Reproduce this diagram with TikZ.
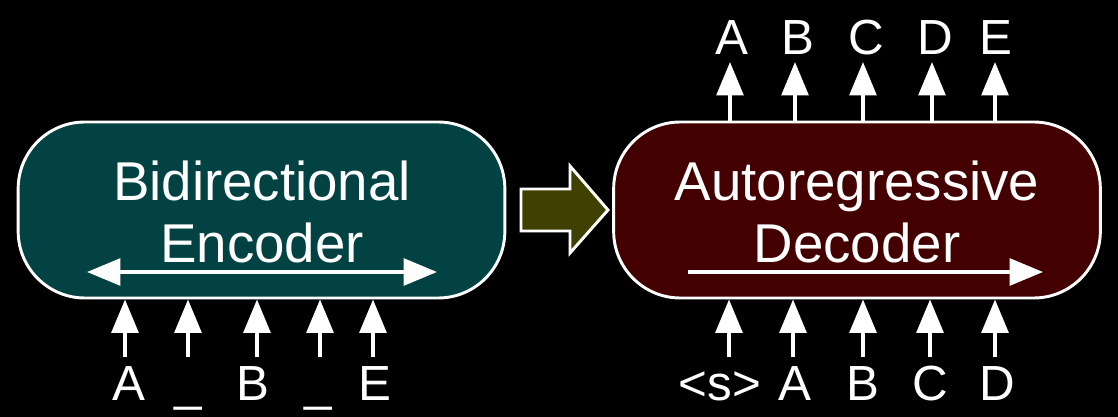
\documentclass[tikz,border=0pt]{standalone}
\usepackage{fontspec}
\setmainfont{Liberation Sans}
\usetikzlibrary{arrows.meta}
\definecolor{enccol}{HTML}{034242}
\definecolor{deccol}{HTML}{440000}
\definecolor{olivecol}{HTML}{404000}
\begin{document}
\begin{tikzpicture}[x=0.75pt,y=-0.75pt,
  box/.style={draw=white,line width=2.2pt,rounded corners=50pt,inner sep=0pt,
    minimum width=365pt,minimum height=132pt},
  boxtxt/.style={text=white,align=center,inner sep=0pt,font=\fontsize{41}{46}\selectfont},
  lbl/.style={text=white,anchor=base,inner sep=0pt,font=\fontsize{37}{40}\selectfont},
  tip/.style={Triangle[length=25pt,width=20pt]},
  arr/.style={white,line width=2.8pt,-{Triangle[length=25pt,width=20pt]}},
  darr/.style={white,line width=2.8pt,{Triangle[length=25pt,width=20pt]}-{Triangle[length=25pt,width=20pt]}}]
\fill[black] (0,0) rectangle (1118,417);
\useasboundingbox (0,0) rectangle (1118,417);
% boxes
\node[box,fill=enccol] (enc) at (261.5,210) {};
\node[box,fill=deccol] (dec) at (857,210) {};
\node[boxtxt] (enct) at (262,212) {Bidirectional\\Encoder};
\node[boxtxt] (dect) at (857,212) {Autoregressive\\Decoder};
% inner arrows
\coordinate (el) at (87,272); \coordinate (er) at (437,272);
\draw[darr] (el) -- (er);
\coordinate (dl) at (688,272); \coordinate (dr) at (1043,272);
\draw[arr] (dl) -- (dr);
% block arrow
\coordinate (b1) at (521,189);
\draw[white,line width=2.2pt,fill=olivecol,line join=miter]
  (b1) -- (570,189) -- (570,166) -- (608,210) -- (570,253) -- (570,231) -- (521,231) -- cycle;
% encoder inputs
\foreach \x/\lx/\t [count=\i] in {125/129/A,188/188/\_,257/253/B,320/318/\_,373/375/E}{
  \node[lbl] (ein\i) at (\lx,400) {\t};
  \coordinate (eis\i) at (\x,357);
  \draw[arr] (eis\i) -- (eis\i |- enc.south);
}
% decoder inputs
\foreach \x/\lx/\t [count=\i] in {729/720/<s>,793/795/A,863/863/B,930/930/C,995/997/D}{
  \node[lbl] (din\i) at (\lx,400) {\t};
  \coordinate (dis\i) at (\x,357);
  \draw[arr] (dis\i) -- (dis\i |- dec.south);
}
% decoder outputs
\foreach \x/\lx/\t [count=\i] in {730/732/A,795/798/B,863/866/C,932/935/D,995/996/E}{
  \node[lbl] (dout\i) at (\lx,55) {\t};
  \coordinate (dos\i) at (\x,62);
  \draw[arr] (dos\i |- dec.north) -- (dos\i);
}
\end{tikzpicture}
\end{document}
